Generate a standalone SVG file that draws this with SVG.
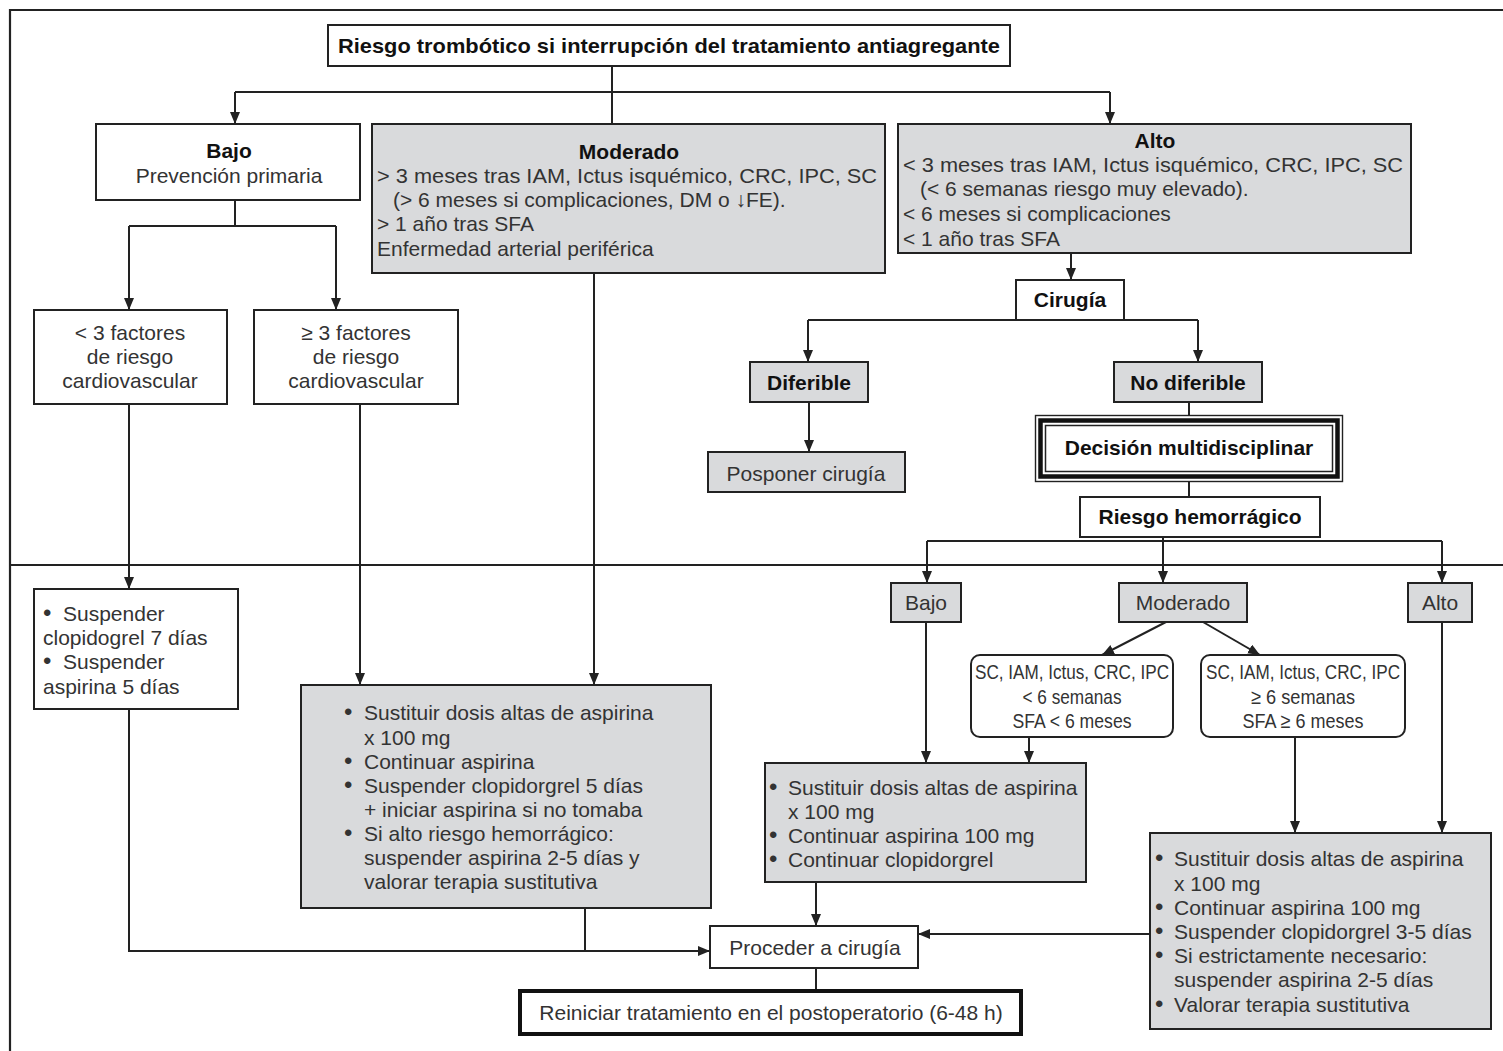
<svg xmlns="http://www.w3.org/2000/svg" width="1503" height="1051" viewBox="0 0 1503 1051">
<style>
.box{fill:#fff;stroke:#222;stroke-width:2}
.gray{fill:#d9dadc;stroke:#222;stroke-width:2}
.t{font-family:"Liberation Sans",Arial,sans-serif;font-size:21px;fill:#333}
.b{font-weight:bold;fill:#111}
.c{text-anchor:middle}
.ln{stroke:#222;stroke-width:2;fill:none}
.fr{stroke:#222;stroke-width:2.2;fill:none}
.bu{font-size:24px}
</style>
<defs>
<marker id="ah" viewBox="0 0 12 10" refX="12" refY="5" markerWidth="12" markerHeight="10" orient="auto" markerUnits="userSpaceOnUse"><path d="M0,0 L12,5 L0,10 z" fill="#222"/></marker>
</defs>
<rect width="1503" height="1051" fill="#fff"/>
<g id="frame">
<path class="fr" d="M10,1051 V10 H1503"/>
<path class="fr" d="M10,565 H1503"/>
</g>
<g id="connectors">
<path class="ln" d="M612,66 V124"/>
<path class="ln" d="M235,92 H1110"/>
<path class="ln" d="M235,92 V124" marker-end="url(#ah)"/>
<path class="ln" d="M1110,92 V124" marker-end="url(#ah)"/>
<path class="ln" d="M235,200 V226 M129,226 H336"/>
<path class="ln" d="M129,226 V310" marker-end="url(#ah)"/>
<path class="ln" d="M336,226 V310" marker-end="url(#ah)"/>
<path class="ln" d="M1071,253 V280" marker-end="url(#ah)"/>
<path class="ln" d="M808,320 H1198"/>
<path class="ln" d="M808,320 V362" marker-end="url(#ah)"/>
<path class="ln" d="M1198,320 V362" marker-end="url(#ah)"/>
<path class="ln" d="M809,402 V452" marker-end="url(#ah)"/>
<path class="ln" d="M1189,402 V415 M1189,482 V497"/>
<path class="ln" d="M1163,537 V541 M927,541 H1442"/>
<path class="ln" d="M927,541 V583" marker-end="url(#ah)"/>
<path class="ln" d="M1163,541 V583" marker-end="url(#ah)"/>
<path class="ln" d="M1442,541 V583" marker-end="url(#ah)"/>
<path class="ln" d="M1166,622 L1102,655" marker-end="url(#ah)"/>
<path class="ln" d="M1203,622 L1260,655" marker-end="url(#ah)"/>
<path class="ln" d="M926,622 V763" marker-end="url(#ah)"/>
<path class="ln" d="M1029,737 V763" marker-end="url(#ah)"/>
<path class="ln" d="M1295,737 V833" marker-end="url(#ah)"/>
<path class="ln" d="M1442,622 V833" marker-end="url(#ah)"/>
<path class="ln" d="M816,882 V926" marker-end="url(#ah)"/>
<path class="ln" d="M1150,934 H918" marker-end="url(#ah)"/>
<path class="ln" d="M816,968 V990"/>
<path class="ln" d="M129,404 V589" marker-end="url(#ah)"/>
<path class="ln" d="M360,404 V685" marker-end="url(#ah)"/>
<path class="ln" d="M594,273 V685" marker-end="url(#ah)"/>
<path class="ln" d="M129,710 V951 H710" marker-end="url(#ah)"/>
<path class="ln" d="M585,908 V951"/>
</g>
<g id="title">
<rect class="box" x="328" y="25" width="682" height="41"/>
<text class="t b c" x="669" y="53" textLength="662" lengthAdjust="spacingAndGlyphs">Riesgo trombótico si interrupción del tratamiento antiagregante</text>
</g>
<g id="bajo">
<rect class="box" x="96" y="124" width="264" height="76"/>
<text class="t b c" x="229" y="158">Bajo</text>
<text class="t c" x="229" y="183">Prevención primaria</text>
</g>
<g id="moderado">
<rect class="gray" x="372" y="124" width="513" height="149"/>
<text class="t b c" x="629" y="159">Moderado</text>
<text class="t" x="377" y="183" textLength="500" lengthAdjust="spacingAndGlyphs">&gt; 3 meses tras IAM, Ictus isquémico, CRC, IPC, SC</text>
<text class="t" x="393" y="207">(&gt; 6 meses si complicaciones, DM o ↓FE).</text>
<text class="t" x="377" y="231">&gt; 1 año tras SFA</text>
<text class="t" x="377" y="256">Enfermedad arterial periférica</text>
</g>
<g id="alto">
<rect class="gray" x="898" y="124" width="513" height="129"/>
<text class="t b c" x="1155" y="148">Alto</text>
<text class="t" x="903" y="172" textLength="500" lengthAdjust="spacingAndGlyphs">&lt; 3 meses tras IAM, Ictus isquémico, CRC, IPC, SC</text>
<text class="t" x="920" y="196">(&lt; 6 semanas riesgo muy elevado).</text>
<text class="t" x="903" y="221">&lt; 6 meses si complicaciones</text>
<text class="t" x="903" y="246">&lt; 1 año tras SFA</text>
</g>
<g id="menos3">
<rect class="box" x="34" y="310" width="193" height="94"/>
<text class="t c" x="130" y="340">&lt; 3 factores</text>
<text class="t c" x="130" y="364">de riesgo</text>
<text class="t c" x="130" y="388">cardiovascular</text>
</g>
<g id="mas3">
<rect class="box" x="254" y="310" width="204" height="94"/>
<text class="t c" x="356" y="340">≥ 3 factores</text>
<text class="t c" x="356" y="364">de riesgo</text>
<text class="t c" x="356" y="388">cardiovascular</text>
</g>
<g id="cirugia">
<rect class="box" x="1016" y="280" width="108" height="40"/>
<text class="t b c" x="1070" y="307">Cirugía</text>
</g>
<g id="diferible">
<rect class="gray" x="750" y="362" width="118" height="40"/>
<text class="t b c" x="809" y="390">Diferible</text>
</g>
<g id="posponer">
<rect class="gray" x="708" y="452" width="197" height="40"/>
<text class="t c" x="806" y="481">Posponer cirugía</text>
</g>
<g id="nodiferible">
<rect class="gray" x="1114" y="362" width="148" height="40"/>
<text class="t b c" x="1188" y="390">No diferible</text>
</g>
<g id="decision">
<rect x="1035.5" y="415.5" width="307" height="66" fill="#fff" stroke="#222" stroke-width="1.4"/>
<rect x="1040.5" y="420.5" width="297" height="56" fill="none" stroke="#111" stroke-width="4.5"/>
<rect x="1045.5" y="425.5" width="287" height="46" fill="#fff" stroke="#222" stroke-width="1.5"/>
<text class="t b c" x="1189" y="455">Decisión multidisciplinar</text>
</g>
<g id="riesgohem">
<rect class="box" x="1080" y="497" width="240" height="40"/>
<text class="t b c" x="1200" y="524">Riesgo hemorrágico</text>
</g>
<g id="h-bajo">
<rect class="gray" x="891" y="583" width="70" height="39"/>
<text class="t c" x="926" y="610">Bajo</text>
</g>
<g id="h-moderado">
<rect class="gray" x="1119" y="583" width="128" height="39"/>
<text class="t c" x="1183" y="610">Moderado</text>
</g>
<g id="h-alto">
<rect class="gray" x="1408" y="583" width="64" height="39"/>
<text class="t c" x="1440" y="610">Alto</text>
</g>
<g id="mod-menos6">
<rect class="box" x="971" y="655" width="202" height="82" rx="9"/>
<text class="t c" x="1072" y="679" textLength="194" lengthAdjust="spacingAndGlyphs">SC, IAM, Ictus, CRC, IPC</text>
<text class="t c" x="1072" y="704" textLength="99" lengthAdjust="spacingAndGlyphs">&lt; 6 semanas</text>
<text class="t c" x="1072" y="728" textLength="119" lengthAdjust="spacingAndGlyphs">SFA &lt; 6 meses</text>
</g>
<g id="mod-mas6">
<rect class="box" x="1201" y="655" width="204" height="82" rx="9"/>
<text class="t c" x="1303" y="679" textLength="194" lengthAdjust="spacingAndGlyphs">SC, IAM, Ictus, CRC, IPC</text>
<text class="t c" x="1303" y="704" textLength="104" lengthAdjust="spacingAndGlyphs">≥ 6 semanas</text>
<text class="t c" x="1303" y="728" textLength="121" lengthAdjust="spacingAndGlyphs">SFA ≥ 6 meses</text>
</g>
<g id="suspender-left">
<rect class="box" x="34" y="589" width="204" height="120"/>
<text class="t"><tspan class="bu" x="43" y="621">•</tspan><tspan x="63" y="621">Suspender</tspan></text>
<text class="t" x="43" y="645">clopidogrel 7 días</text>
<text class="t"><tspan class="bu" x="43" y="669">•</tspan><tspan x="63" y="669">Suspender</tspan></text>
<text class="t" x="43" y="694">aspirina 5 días</text>
</g>
<g id="sustituir-left">
<rect class="gray" x="301" y="685" width="410" height="223"/>
<text class="t"><tspan class="bu" x="344" y="720">•</tspan><tspan x="364" y="720">Sustituir dosis altas de aspirina</tspan></text>
<text class="t" x="364" y="745">x 100 mg</text>
<text class="t"><tspan class="bu" x="344" y="769">•</tspan><tspan x="364" y="769">Continuar aspirina</tspan></text>
<text class="t"><tspan class="bu" x="344" y="793">•</tspan><tspan x="364" y="793">Suspender clopidorgrel 5 días</tspan></text>
<text class="t" x="364" y="817">+ iniciar aspirina si no tomaba</text>
<text class="t"><tspan class="bu" x="344" y="841">•</tspan><tspan x="364" y="841">Si alto riesgo hemorrágico:</tspan></text>
<text class="t" x="364" y="865">suspender aspirina 2-5 días y</text>
<text class="t" x="364" y="889">valorar terapia sustitutiva</text>
</g>
<g id="sustituir-mid">
<rect class="gray" x="765" y="763" width="321" height="119"/>
<text class="t"><tspan class="bu" x="769" y="795">•</tspan><tspan x="788" y="795">Sustituir dosis altas de aspirina</tspan></text>
<text class="t" x="788" y="819">x 100 mg</text>
<text class="t"><tspan class="bu" x="769" y="843">•</tspan><tspan x="788" y="843">Continuar aspirina 100 mg</tspan></text>
<text class="t"><tspan class="bu" x="769" y="867">•</tspan><tspan x="788" y="867">Continuar clopidorgrel</tspan></text>
</g>
<g id="sustituir-right">
<rect class="gray" x="1150" y="833" width="341" height="196"/>
<text class="t"><tspan class="bu" x="1155" y="866">•</tspan><tspan x="1174" y="866">Sustituir dosis altas de aspirina</tspan></text>
<text class="t" x="1174" y="891">x 100 mg</text>
<text class="t"><tspan class="bu" x="1155" y="915">•</tspan><tspan x="1174" y="915">Continuar aspirina 100 mg</tspan></text>
<text class="t"><tspan class="bu" x="1155" y="939">•</tspan><tspan x="1174" y="939">Suspender clopidorgrel 3-5 días</tspan></text>
<text class="t"><tspan class="bu" x="1155" y="963">•</tspan><tspan x="1174" y="963">Si estrictamente necesario:</tspan></text>
<text class="t" x="1174" y="987">suspender aspirina 2-5 días</text>
<text class="t"><tspan class="bu" x="1155" y="1012">•</tspan><tspan x="1174" y="1012">Valorar terapia sustitutiva</tspan></text>
</g>
<g id="proceder">
<rect class="box" x="710" y="926" width="208" height="42"/>
<text class="t c" x="815" y="955">Proceder a cirugía</text>
</g>
<g id="reiniciar">
<rect x="520" y="991" width="501" height="43" fill="#fff" stroke="#111" stroke-width="4"/>
<text class="t c" x="771" y="1020">Reiniciar tratamiento en el postoperatorio (6-48 h)</text>
</g>
</svg>
